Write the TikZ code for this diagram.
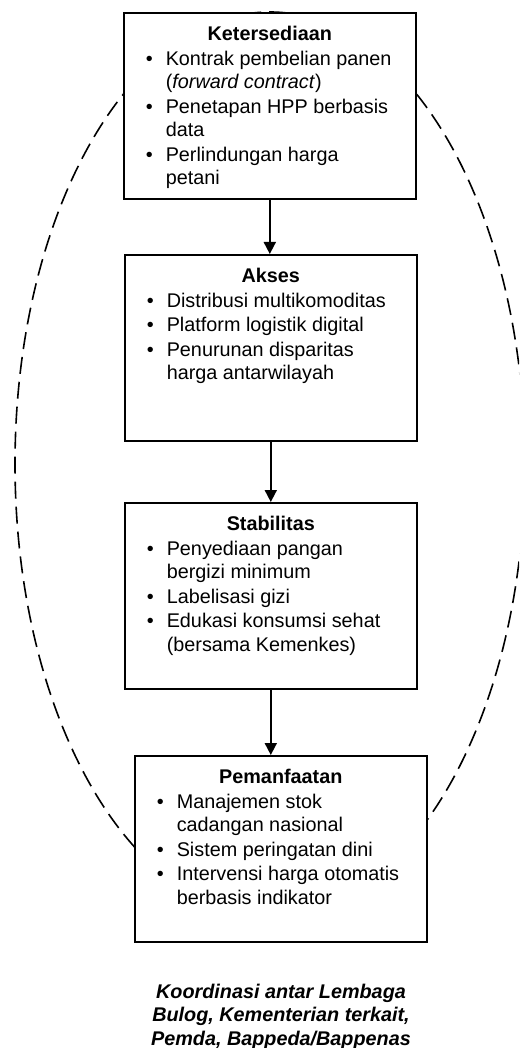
\documentclass[tikz,border=0pt]{standalone}
\usepackage{fontspec}
\setmainfont{Liberation Sans}
\usetikzlibrary{arrows.meta,shapes.geometric}
\newcommand{\bitem}[1]{\par\noindent\hangindent=42pt\hangafter=0\hspace*{-20pt}\makebox[20pt][l]{\textbullet}#1}
\newcommand{\boxcontent}[2]{\parbox[t][186pt][t]{292pt}{\fontsize{19.8pt}{23.5pt}\selectfont\raggedright\parskip=1pt {\centering\bfseries\rule{0pt}{28pt}#1\par}#2\par}}
\tikzset{
  stagebox/.style={draw, line width=1.6pt, fill=white, inner sep=0pt, anchor=north west},
  flowarrow/.style={line width=1.8pt, -{Triangle[length=12pt,width=12pt]}},
  ring/.style={draw, ellipse, line width=1.6pt, dash pattern=on 17pt off 8pt, inner sep=0pt},
  notetext/.style={anchor=base, inner sep=0pt}
}
\begin{document}
\begin{tikzpicture}[x=1pt,y=-1pt]
\useasboundingbox (0,0) rectangle (519,1048);
\clip (0,0) rectangle (519,1048);
\node[ring, minimum width=510pt, minimum height=904pt] (loop) at (270,464) {};
\node[stagebox] (b1) at (123,12) {\boxcontent{Ketersediaan}{%
\bitem{Kontrak pembelian panen\newline(\textit{forward contract})}%
\bitem{Penetapan HPP berbasis\newline data}%
\bitem{Perlindungan harga\newline petani}}};
\node[stagebox] (b2) at (124,254) {\boxcontent{Akses}{%
\bitem{Distribusi multikomoditas}%
\bitem{Platform logistik digital}%
\bitem{Penurunan disparitas\newline harga antarwilayah}}};
\node[stagebox] (b3) at (124,502) {\boxcontent{Stabilitas}{%
\bitem{Penyediaan pangan\newline bergizi minimum}%
\bitem{Labelisasi gizi}%
\bitem{Edukasi konsumsi sehat\newline(bersama Kemenkes)}}};
\node[stagebox] (b4) at (134,755) {\boxcontent{Pemanfaatan}{%
\bitem{Manajemen stok\newline cadangan nasional}%
\bitem{Sistem peringatan dini}%
\bitem{Intervensi harga otomatis\newline berbasis indikator}}};
\draw[flowarrow] (b1.south) -- (b1.south |- b2.north);
\draw[flowarrow] (b2.south) -- (b2.south |- b3.north);
\draw[flowarrow] (b3.south) -- (b3.south |- b4.north);
\node[notetext] (note) at (281,998) {\parbox[t]{320pt}{\centering\fontsize{19.8pt}{23.5pt}\selectfont\bfseries\itshape Koordinasi antar Lembaga\\Bulog, Kementerian terkait,\\Pemda, Bappeda/Bappenas}};
\end{tikzpicture}
\end{document}
